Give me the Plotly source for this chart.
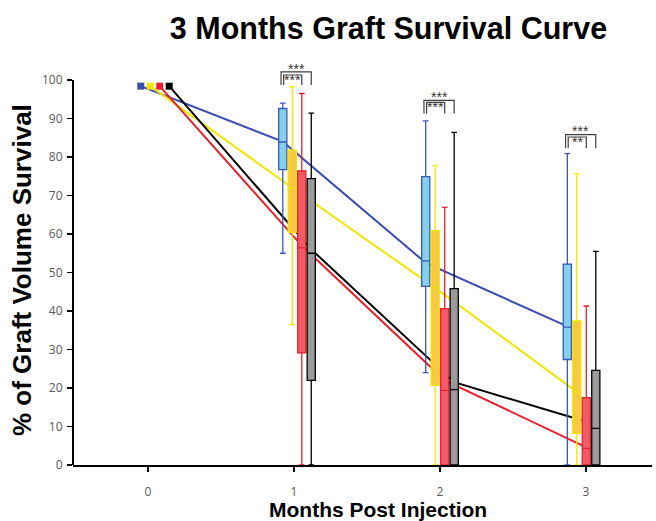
import plotly.graph_objects as go

# ---------------- data ----------------
months = [1, 2, 3]
line_months = [0, 1, 2, 3]
series_names = ["Blue group", "Yellow group", "Red group", "Gray group"]

# box statistics per series (months 1,2,3)
blue_upper = [94.0, 89.4, 80.9]
blue_q3 = [92.6, 74.9, 52.2]
blue_median = [83.9, 53.0, 35.8]
blue_q1 = [76.7, 46.4, 27.4]
blue_lower = [55.0, 24.0, 0.0]

yellow_upper = [98.2, 77.7, 75.6]
yellow_q3 = [81.8, 60.9, 37.4]
yellow_median = [72.0, 46.0, 19.0]
yellow_q1 = [60.4, 20.7, 8.2]
yellow_lower = [36.5, 0.0, 0.0]

red_upper = [96.5, 66.9, 41.3]
red_q3 = [76.4, 40.6, 17.5]
red_median = [56.4, 19.4, 4.3]
red_q1 = [29.1, 0.0, 0.0]
red_lower = [0.0, 0.0, 0.0]

gray_upper = [91.4, 86.4, 55.5]
gray_q3 = [74.4, 45.8, 24.6]
gray_median = [55.0, 19.6, 9.5]
gray_q1 = [22.0, 0.0, 0.0]
gray_lower = [0.0, 0.0, 0.0]

# mean survival lines (months 0..3)
blue_line = [98.4, 84.0, 52.5, 36.0]
yellow_line = [98.4, 72.0, 46.0, 19.0]
red_line = [98.4, 57.0, 22.0, 4.6]
black_line = [98.4, 56.0, 21.5, 10.5]

# significance brackets per month
bracket_base = [98.7, 91.3, 82.3]
outer_top = [102.1, 94.7, 85.8]
inner_top = [101.3, 94.2, 85.2]
outer_stars = ["***", "***", "***"]
inner_stars = ["***", "***", "**"]

x_tick_vals = [0, 1, 2, 3]
x_tick_text = ["0", "1", "2", "3"]
y_tick_vals = [0, 10, 20, 30, 40, 50, 60, 70, 80, 90, 100]

# ---------------- layout constants ----------------
series_offsets = [-0.10, -0.035, 0.03, 0.095]
month_shift = [0.05, 0.023, 0.002, -0.028]   # for months 0..3
box_width = 0.056
X_RANGE = [-0.514, 3.452]
Y_RANGE = [0, 105.2]

line_colors = ["#3a4db0", "#f2e600", "#e8202a", "#000000"]
box_fill = ["#84cfe9", "#f6c844", "#f25a68", "#9a9a9a"]
box_line = ["#3a57b8", "#f2e600", "#e8202a", "#000000"]

box_stats = [
    (blue_upper, blue_q3, blue_median, blue_q1, blue_lower),
    (yellow_upper, yellow_q3, yellow_median, yellow_q1, yellow_lower),
    (red_upper, red_q3, red_median, red_q1, red_lower),
    (gray_upper, gray_q3, gray_median, gray_q1, gray_lower),
]
line_vals = [blue_line, yellow_line, red_line, black_line]


def pos(series_idx, month):
    return month + series_offsets[series_idx] + month_shift[month]


fig = go.Figure()

# lines (base subplot, drawn beneath boxes)
for i, vals in enumerate(line_vals):
    xs = [pos(i, m) for m in line_months]
    fig.add_trace(go.Scatter(
        x=xs, y=vals, mode="lines", name=series_names[i],
        line=dict(color=line_colors[i], width=2), showlegend=False,
        hoverinfo="skip"))
# month-0 squares
for i, vals in enumerate(line_vals):
    fig.add_trace(go.Scatter(
        x=[pos(i, line_months[0])], y=[vals[0]], mode="markers",
        marker=dict(symbol="square", size=7, color=line_colors[i],
                    line=dict(width=0)),
        showlegend=False, hoverinfo="skip"))

# significance brackets
star_font = dict(size=14, color="#333333", family="Liberation Sans")
for k, m in enumerate(months):
    xl_outer = pos(0, m) - 0.012
    xl_inner = pos(0, m) + 0.006
    xr_outer = pos(3, m)
    xr_inner = pos(2, m)
    for xl, xr, top in [(xl_outer, xr_outer, outer_top[k]),
                        (xl_inner, xr_inner, inner_top[k])]:
        fig.add_trace(go.Scatter(
            x=[xl, xl, xr, xr], y=[bracket_base[k], top, top, bracket_base[k]],
            mode="lines", line=dict(color="#404040", width=1.2),
            showlegend=False, hoverinfo="skip"))
    fig.add_annotation(x=(xl_outer + xr_outer) / 2, y=outer_top[k] + 1.4,
                       text=outer_stars[k], showarrow=False, yshift=-2,
                       font=star_font)
    fig.add_annotation(x=(xl_inner + xr_inner) / 2, y=inner_top[k] - 1.0,
                       text=inner_stars[k], showarrow=False, yshift=-1,
                       font=star_font)

# boxes (overlay subplot, drawn above lines)
for i, (up, q3, med, q1, lo) in enumerate(box_stats):
    fig.add_trace(go.Box(
        x=[pos(i, m) for m in months],
        q1=q1, median=med, q3=q3, lowerfence=lo, upperfence=up,
        width=box_width, whiskerwidth=0.7,
        fillcolor=box_fill[i], line=dict(color=box_line[i], width=1.3),
        boxpoints=False, showlegend=False, name=series_names[i],
        xaxis="x2", yaxis="y2", hoverinfo="skip"))

tick_font = dict(family="Open Sans", size=12, color="#595959")

fig.update_layout(
    width=656, height=521,
    margin=dict(l=73, r=4, t=60, b=56),
    paper_bgcolor="white", plot_bgcolor="white",
    boxmode="overlay",
    title=dict(text="<b>3 Months Graft Survival Curve</b>",
               x=388.5 / 656, xanchor="center", y=1 - 28 / 521,
               yanchor="middle",
               font=dict(family="Liberation Sans", size=30.5, color="black")),
    xaxis=dict(range=X_RANGE, tickvals=x_tick_vals, ticktext=x_tick_text,
               ticks="outside", ticklen=5, tickwidth=1.5, tickcolor="black",
               showline=True, linecolor="black", linewidth=2,
               showgrid=False, zeroline=False, tickfont=tick_font,
               ticklabelstandoff=10),
    yaxis=dict(range=Y_RANGE, tickvals=y_tick_vals, ticks="outside",
               ticklen=5, tickwidth=1.5, tickcolor="black",
               showline=False, showgrid=False, zeroline=False,
               tickfont=tick_font, ticklabelstandoff=2),
    xaxis2=dict(range=X_RANGE, overlaying="x", anchor="y2", visible=False),
    yaxis2=dict(range=Y_RANGE, overlaying="y", anchor="x2", visible=False),
    showlegend=False,
)

# y axis line from 0 to 100
fig.add_shape(type="line", xref="paper", yref="y", x0=0, x1=0,
              y0=y_tick_vals[0], y1=y_tick_vals[-1],
              line=dict(color="black", width=2))

# axis titles
fig.add_annotation(xref="paper", yref="paper", x=(378.5 - 73) / 579,
                   y=(465 - 509) / 405, text="<b>Months Post Injection</b>",
                   showarrow=False, xanchor="center", yanchor="middle",
                   font=dict(family="Liberation Sans", size=21, color="black"))
fig.add_annotation(xref="paper", yref="paper", x=(22 - 73) / 579,
                   y=(465 - 270) / 405, text="<b>% of Graft Volume Survival</b>",
                   textangle=-90, showarrow=False, xanchor="center",
                   yanchor="middle",
                   font=dict(family="Liberation Sans", size=26, color="black"))

fig.write_html(
    "out.html",
    config={"displayModeBar": False, "staticPlot": True},
    post_script="document.body.style.margin='0';"
                "document.body.style.overflow='hidden';",
)
